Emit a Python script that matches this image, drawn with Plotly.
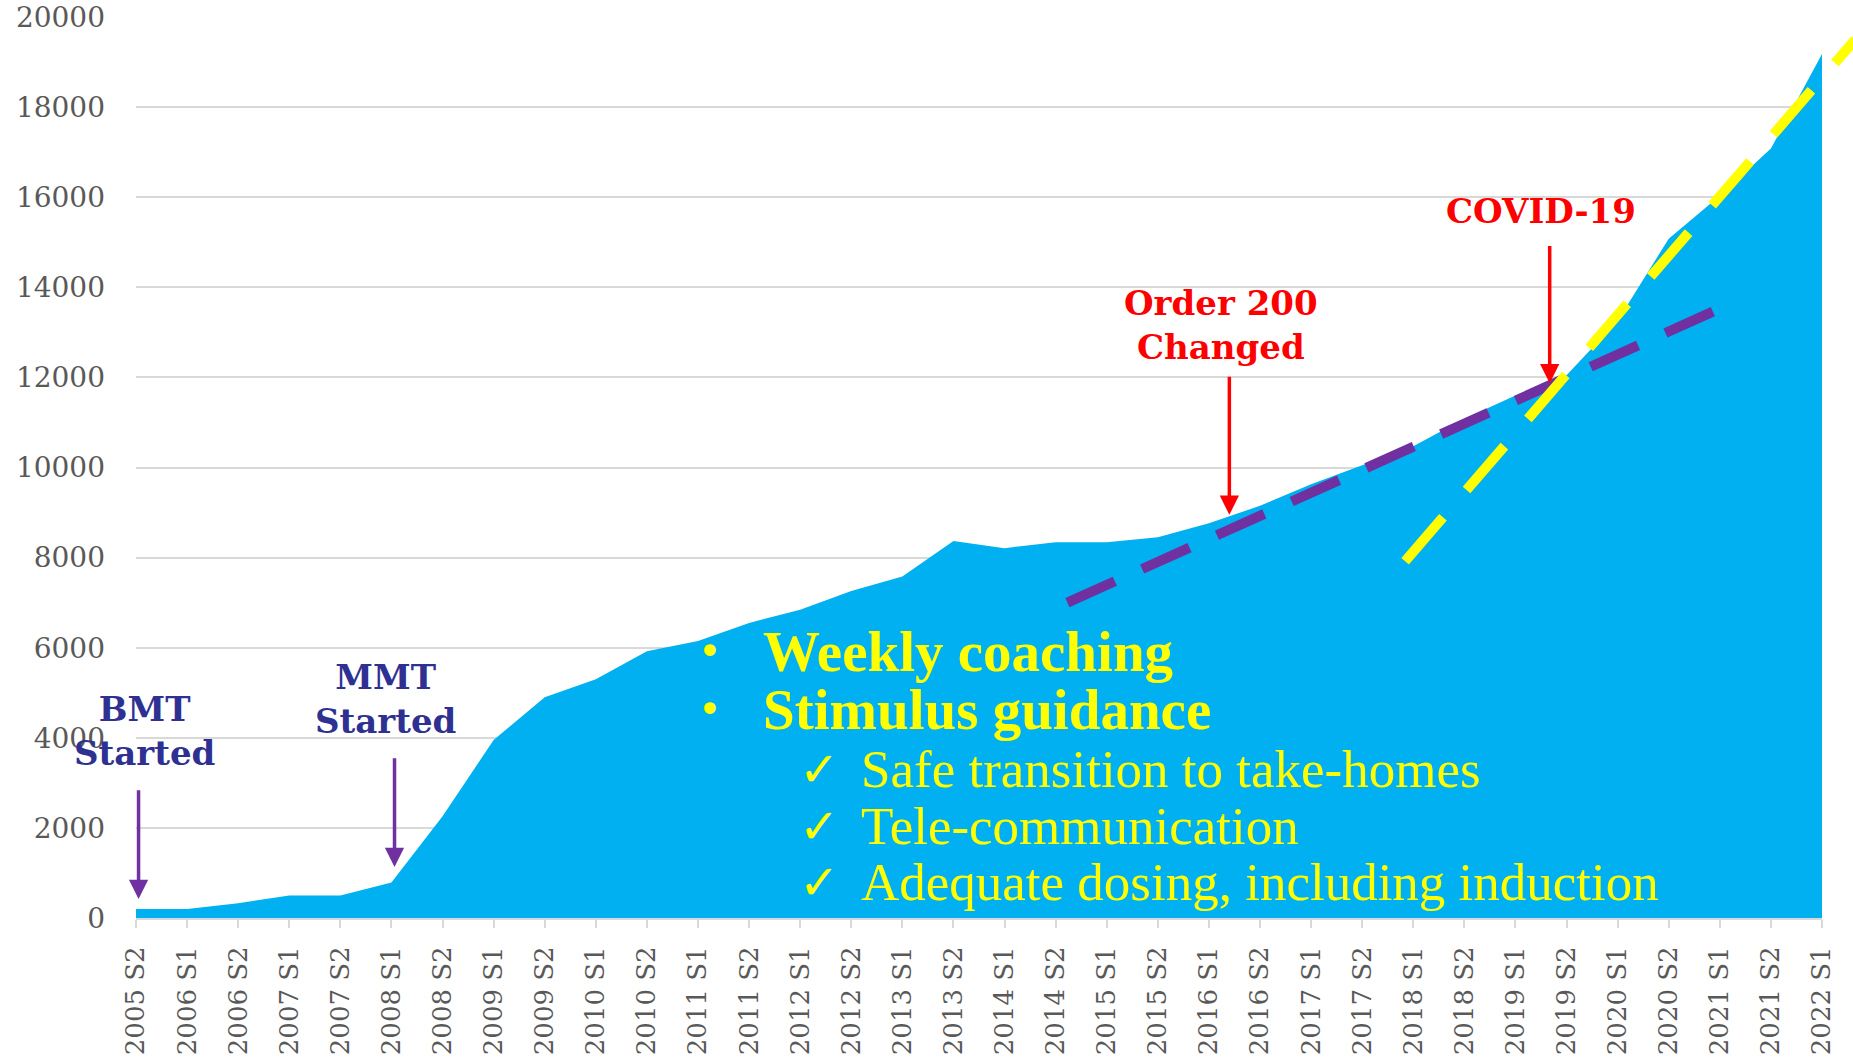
import plotly.graph_objects as go

# half-year periods on the category axis
periods = [
    "2005 S2", "2006 S1", "2006 S2", "2007 S1", "2007 S2", "2008 S1", "2008 S2",
    "2009 S1", "2009 S2", "2010 S1", "2010 S2", "2011 S1", "2011 S2", "2012 S1",
    "2012 S2", "2013 S1", "2013 S2", "2014 S1", "2014 S2", "2015 S1", "2015 S2",
    "2016 S1", "2016 S2", "2017 S1", "2017 S2", "2018 S1", "2018 S2", "2019 S1",
    "2019 S2", "2020 S1", "2020 S2", "2021 S1", "2021 S2", "2022 S1",
]
patients = [
    200, 200, 330, 500, 500, 790, 2260, 3950, 4900, 5300, 5920, 6150, 6550, 6840,
    7260, 7580, 8370, 8210, 8340, 8340, 8450, 8760, 9150, 9630, 10050, 10470, 11080,
    11600, 12050, 13260, 15080, 16030, 17080, 19180,
]

y_max = 20000
y_step = 2000

# dashed trend lines (category index, value)
purple_trend_x = [18.23, 31.1]
purple_trend_y = [7000, 13580]
yellow_trend_x = [24.84, 33.65]
yellow_trend_y = [7920, 19500]

# event labels: text, x index, y value, colour
events = [
    ("BMT<br>Started", 0.16, 4158, "#2E3192"),
    ("MMT<br>Started", 4.89, 4868, "#2E3192"),
    ("Order 200<br>Changed", 21.24, 13158, "#FF0000"),
    ("COVID-19", 27.5, 15684, "#FF0000"),
]
# event arrows: x index, tail value, head value, colour
event_arrows = [
    (0.05, 2870, 420, "#7030A0"),
    (5.06, 3580, 1130, "#7030A0"),
    (21.4, 12050, 8950, "#FF0000"),
    (27.67, 14950, 11870, "#FF0000"),
]

# yellow note lines: marker, text, bold, y value
note_lines = [
    ("•", "Weekly coaching", True, 5921),
    ("•", "Stimulus guidance", True, 4632),
    ("✓", "Safe transition to take-homes", False, 3316),
    ("✓", "Tele-communication", False, 2053),
    ("✓", "Adequate dosing, including induction", False, 789),
]
bullet_x, bullet_text_x = 10.97, 12.24
check_x, check_text_x = 12.94, 14.15

n_last = len(periods) - 1

fig = go.Figure()
fig.add_trace(go.Scatter(
    x=periods, y=patients, mode="lines", fill="tozeroy",
    fillcolor="#00B0F0", line=dict(width=0, color="#00B0F0"),
    hoverinfo="x+y", showlegend=False,
))

# trend lines drawn in paper space so the yellow one can run past the plot edge
for xs, ys, col, dash in [
    (purple_trend_x, purple_trend_y, "#7030A0", "52px,30px"),
    (yellow_trend_x, yellow_trend_y, "#FFFF00", "58px,36px"),
]:
    fig.add_shape(
        type="line", xref="paper", yref="paper",
        x0=xs[0] / n_last, x1=xs[1] / n_last,
        y0=ys[0] / y_max, y1=ys[1] / y_max,
        line=dict(color=col, width=10, dash=dash),
    )

for text, x, y, col in events:
    fig.add_annotation(
        x=x, y=y, text=f"<b>{text}</b>", showarrow=False,
        font=dict(family="DejaVu Serif", size=34, color=col),
        xanchor="center", yanchor="middle",
    )

for x, tail, head, col in event_arrows:
    fig.add_annotation(
        x=x, y=head, ax=x, ay=tail, axref="x", ayref="y",
        text="", showarrow=True, arrowhead=2, arrowsize=1.1,
        arrowwidth=3.5, arrowcolor=col, standoff=0,
    )

for mark, text, bold, y in note_lines:
    mx, tx = (bullet_x, bullet_text_x) if mark == "•" else (check_x, check_text_x)
    size = 57 if bold else 53
    fig.add_annotation(
        x=mx, y=y, text=mark, showarrow=False, xanchor="left", yanchor="middle",
        font=dict(family="DejaVu Sans", size=40 if mark == "•" else 48, color="#FFFF00"),
    )
    fig.add_annotation(
        x=tx, y=y, text=f"<b>{text}</b>" if bold else text, showarrow=False,
        xanchor="left", yanchor="middle",
        font=dict(family="Liberation Serif", size=size, color="#FFFF00"),
    )

fig.update_layout(
    width=1853, height=1059,
    margin=dict(l=136, r=31, t=17, b=141),
    plot_bgcolor="white", paper_bgcolor="white",
    showlegend=False,
)
fig.update_xaxes(
    type="category", range=[0, n_last], tickangle=-90, automargin=False,
    showgrid=False, showline=True, linecolor="#D9D9D9", linewidth=2,
    ticks="outside", ticklen=8, tickcolor="#D9D9D9", tickwidth=2,
    tickfont=dict(family="DejaVu Serif", size=26, color="#595959"),
    ticklabelstandoff=8,
)
fig.update_yaxes(
    range=[0, y_max], dtick=y_step, tickformat="d", automargin=False,
    showgrid=True, gridcolor="#D9D9D9", gridwidth=1.5,
    zeroline=False, showline=False,
    tickfont=dict(family="DejaVu Serif", size=28, color="#595959"),
    ticklabelstandoff=30,
)

fig.write_html(
    "out.html",
    config={"displayModeBar": False},
    post_script="document.body.style.margin='0';",
)
